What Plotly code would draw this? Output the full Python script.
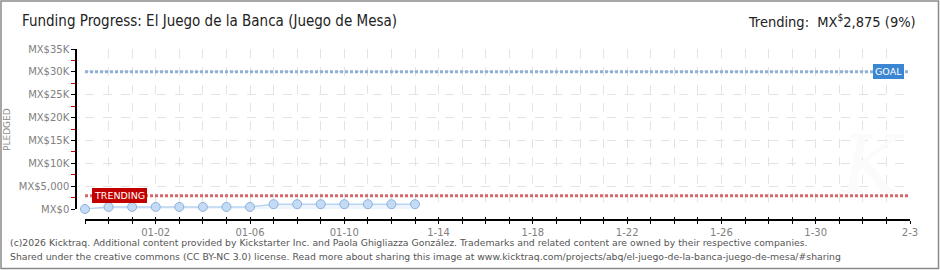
import plotly.graph_objects as go
import pandas as pd

W, H = 940, 270

# ---- data ----
dates = pd.date_range("2025-12-30", "2026-01-13", freq="D").strftime("%Y-%m-%d").tolist()
pledged = [0, 450, 450, 450, 450, 450, 450, 450, 1050, 1050, 1050, 1050, 1050, 1050, 1050]
goal = 30000
trending = 2875

x_tick_dates = pd.date_range("2025-12-30", "2026-02-03", freq="D").strftime("%Y-%m-%d").tolist()
x_label_map = {"2026-01-02": "01-02", "2026-01-06": "01-06", "2026-01-10": "01-10",
               "2026-01-14": "1-14", "2026-01-18": "1-18", "2026-01-22": "1-22",
               "2026-01-26": "1-26", "2026-01-30": "1-30", "2026-02-03": "2-3"}
x_tick_text = [x_label_map.get(d, "") for d in x_tick_dates]

y_tick_vals = [0, 5000, 10000, 15000, 20000, 25000, 30000, 35000]
y_tick_text = ["MX$0", "MX$5,000", "MX$10K", "MX$15K", "MX$20K", "MX$25K", "MX$30K", "MX$35K"]
y_minor_vals = [2500, 7500, 12500, 17500, 22500, 27500, 32500]

title_text = "Funding Progress: El Juego de la Banca (Juego de Mesa)"
trend_text = "Trending:  MX<sup>$</sup>2,875 (9%)"
footer1 = "(c)2026 Kicktraq. Additional content provided by Kickstarter Inc. and Paola Ghigliazza González. Trademarks and related content are owned by their respective companies."
footer2 = "Shared under the creative commons (CC BY-NC 3.0) license. Read more about sharing this image at www.kicktraq.com/projects/abq/el-juego-de-la-banca-juego-de-mesa/#sharing"

# ---- helpers (pixel -> paper) ----
def px(x):
    return x / W

def py(y):
    return 1 - y / H

tick_font = dict(family="DejaVu Sans", size=10, color="#808080")

fig = go.Figure()

fig.add_trace(go.Scatter(
    x=dates, y=pledged, mode="lines+markers",
    line=dict(color="#b9d4f1", width=1.5),
    fill="tozeroy", fillcolor="rgba(205,225,248,0.35)",
    marker=dict(size=9, color="#c3dbf5", line=dict(color="#8cb1da", width=1)),
    cliponaxis=False, showlegend=False, hoverinfo="skip",
    xaxis="x", yaxis="y",
))

# inside ticks duplicate axis (ticks crossing the axis line)
fig.add_trace(go.Scatter(x=[x_tick_dates[0]], y=[0], mode="markers", marker=dict(opacity=0),
                         showlegend=False, hoverinfo="skip", xaxis="x2", yaxis="y"))

fig.update_layout(
    width=W, height=H,
    margin=dict(l=0, r=0, t=0, b=0),
    paper_bgcolor="white", plot_bgcolor="white",
    xaxis=dict(
        type="date", domain=[px(85), px(910)], anchor="free", position=py(220),
        range=[x_tick_dates[0], x_tick_dates[-1]],
        tickmode="array", tickvals=x_tick_dates, ticktext=x_tick_text,
        ticks="outside", ticklen=3, tickcolor="black", tickwidth=1.2,
        showline=True, linecolor="black", linewidth=1.5,
        showgrid=True, gridcolor="#e3e3e3", griddash="dash", gridwidth=1,
        zeroline=False, tickfont=tick_font, automargin=False,
    ),
    xaxis2=dict(
        type="date", domain=[px(85), px(910)], anchor="free", position=py(220),
        overlaying="x", range=[x_tick_dates[0], x_tick_dates[-1]],
        tickmode="array", tickvals=x_tick_dates, ticktext=["" for _ in x_tick_dates],
        ticks="inside", ticklen=3, tickcolor="black", tickwidth=1.2,
        showline=False, showgrid=False, zeroline=False, showticklabels=False,
    ),
    yaxis=dict(
        domain=[py(209), py(49)], anchor="free", position=px(76),
        range=[0, 35000],
        tickmode="array", tickvals=y_tick_vals, ticktext=y_tick_text,
        ticks="outside", ticklen=4, tickcolor="black", tickwidth=1.2,
        minor=dict(tickmode="array", tickvals=y_minor_vals, ticks="outside", ticklen=4,
                   tickcolor="#d40000", tickwidth=1.2, showgrid=False),
        showline=True, linecolor="black", linewidth=1.5,
        showgrid=True, gridcolor="#e3e3e3", griddash="dash", gridwidth=1,
        zeroline=False, tickfont=tick_font, automargin=False,
    ),
    showlegend=False,
)

# goal and trending lines
fig.add_shape(type="line", xref="x domain", yref="y", x0=0, x1=1, y0=goal, y1=goal,
              line=dict(color="#8fb0da", width=3, dash="3px,2px"), layer="above")
fig.add_shape(type="line", xref="x domain", yref="y", x0=0, x1=1, y0=trending, y1=trending,
              line=dict(color="#d8676b", width=3, dash="3px,2px"), layer="above")

# border frame
fig.add_shape(type="rect", xref="paper", yref="paper", x0=px(1), x1=px(938.5), y0=py(268.5), y1=py(1),
              line=dict(color="#8a8a8a", width=1.5), layer="above")

# watermark
fig.add_annotation(xref="paper", yref="paper", x=px(872), y=py(165), xanchor="center", yanchor="middle",
                   text="<i>K</i>", showarrow=False,
                   font=dict(family="DejaVu Serif", size=80, color="#fbfbfb"))

# labels
fig.add_annotation(xref="paper", yref="y", x=px(888), y=goal, xanchor="center", yanchor="middle",
                   text="GOAL", showarrow=False,
                   font=dict(family="DejaVu Sans", size=9.5, color="white"),
                   bgcolor="#3b86d2", borderpad=2, bordercolor="#3b86d2", borderwidth=0)
fig.add_annotation(xref="paper", yref="y", x=px(120), y=trending, xanchor="center", yanchor="middle",
                   text="TRENDING", showarrow=False,
                   font=dict(family="DejaVu Sans", size=9.5, color="white"),
                   bgcolor="#c30000", borderpad=2, bordercolor="#c30000", borderwidth=0)

# title & trending text
fig.add_annotation(xref="paper", yref="paper", x=px(20), y=py(21), xanchor="left", yanchor="middle",
                   text=title_text, showarrow=False,
                   font=dict(family="Liberation Sans Narrow, DejaVu Sans Condensed, sans-serif", size=15, color="#222"))
fig.add_annotation(xref="paper", yref="paper", x=px(918), y=py(21), xanchor="right", yanchor="middle",
                   text=trend_text, showarrow=False,
                   font=dict(family="Liberation Sans Narrow, DejaVu Sans Condensed, sans-serif", size=14.5, color="#222"))

# PLEDGED
fig.add_annotation(xref="paper", yref="paper", x=px(7), y=py(130), xanchor="center", yanchor="middle",
                   text="PLEDGED", textangle=-90,
                   showarrow=False, font=dict(family="DejaVu Sans", size=9, color="#888"))

# footer
fig.add_annotation(xref="paper", yref="paper", x=px(8), y=py(242), xanchor="left", yanchor="middle",
                   text=footer1, showarrow=False, font=dict(family="DejaVu Sans", size=9.3, color="#555"))
fig.add_annotation(xref="paper", yref="paper", x=px(8), y=py(256), xanchor="left", yanchor="middle",
                   text=footer2, showarrow=False, font=dict(family="DejaVu Sans", size=9.3, color="#555"))

fig.write_html("out.html")
